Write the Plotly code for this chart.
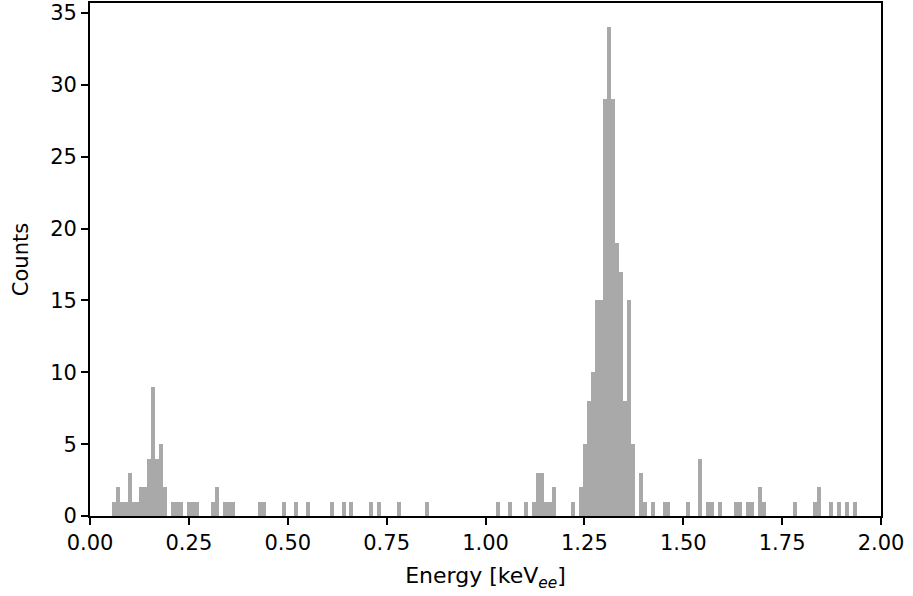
import plotly.graph_objects as go

# Histogram: first bin edge, bin width (keV_ee) and counts per bin
bin_lo = 0.0549
bin_width = 0.01002
counts = [
    1, 2, 1, 1, 3, 1, 1, 2, 2, 4,      # 0-9
    9, 4, 5, 2, 0, 1, 1, 1, 0, 1,      # 10-19
    1, 1, 0, 0, 0, 1, 2, 0, 1, 1,      # 20-29
    1, 0, 0, 0, 0, 0, 0, 1, 1, 0,      # 30-39
    0, 0, 0, 1, 0, 0, 1, 0, 0, 1,      # 40-49
    0, 0, 0, 0, 0, 1, 0, 0, 1, 0,      # 50-59
    1, 0, 0, 0, 0, 1, 0, 1, 0, 0,      # 60-69
    0, 0, 1, 0, 0, 0, 0, 0, 0, 1,      # 70-79
    0, 0, 0, 0, 0, 0, 0, 0, 0, 0,      # 80-89
    0, 0, 0, 0, 0, 0, 0, 1, 0, 0,      # 90-99
    1, 0, 0, 0, 1, 0, 1, 3, 3, 1,      # 100-109
    1, 2, 0, 0, 0, 0, 1, 0, 2, 5,      # 110-119
    8, 10, 15, 15, 29, 34, 29, 19, 17, 8,  # 120-129
    15, 5, 0, 3, 1, 0, 1, 0, 0, 1,     # 130-139
    1, 0, 0, 0, 0, 1, 0, 0, 4, 0,      # 140-149
    1, 1, 0, 1, 0, 0, 0, 1, 1, 0,      # 150-159
    1, 1, 0, 2, 1, 0, 0, 0, 0, 0,      # 160-169
    0, 0, 1, 0, 0, 0, 0, 1, 2, 0,      # 170-179
    0, 1, 0, 1, 0, 1, 0, 1,            # 180-187
]
x_ticks = [0.00, 0.25, 0.50, 0.75, 1.00, 1.25, 1.50, 1.75, 2.00]
y_ticks = [0, 5, 10, 15, 20, 25, 30, 35]

centers = [bin_lo + bin_width * (i + 0.5) for i in range(len(counts))]

fig = go.Figure(
    go.Bar(
        x=centers,
        y=counts,
        width=[bin_width] * len(counts),
        marker=dict(color="#a9a9a9", line=dict(width=0)),
        hoverinfo="x+y",
    )
)

axis_common = dict(
    showline=True,
    linecolor="black",
    linewidth=1.7,
    mirror=True,
    ticks="outside",
    ticklen=7,
    tickwidth=1.7,
    tickcolor="black",
    showgrid=False,
    zeroline=False,
    tickfont=dict(family="DejaVu Sans", size=21, color="black"),
)

fig.update_xaxes(
    range=[0, 2.0],
    tickvals=x_ticks,
    ticktext=[f"{v:.2f}" for v in x_ticks],
    title=dict(text="Energy [keV<sub><i>ee</i></sub>]",
               font=dict(family="DejaVu Sans", size=22, color="black"),
               standoff=14),
    **axis_common,
)
fig.update_yaxes(
    range=[0, 35.7],
    tickvals=y_ticks,
    title=dict(text="Counts",
               font=dict(family="DejaVu Sans", size=21, color="black"),
               standoff=16),
    **axis_common,
)

fig.update_layout(
    width=913,
    height=596,
    margin=dict(l=90, r=32, t=3, b=80, autoexpand=False),
    plot_bgcolor="white",
    paper_bgcolor="white",
    bargap=0,
    showlegend=False,
    font=dict(family="DejaVu Sans", size=21, color="black"),
)

fig.write_html(
    "out.html",
    config={"displayModeBar": False},
    post_script="document.body.style.margin='0';document.body.style.overflow='hidden';",
)
